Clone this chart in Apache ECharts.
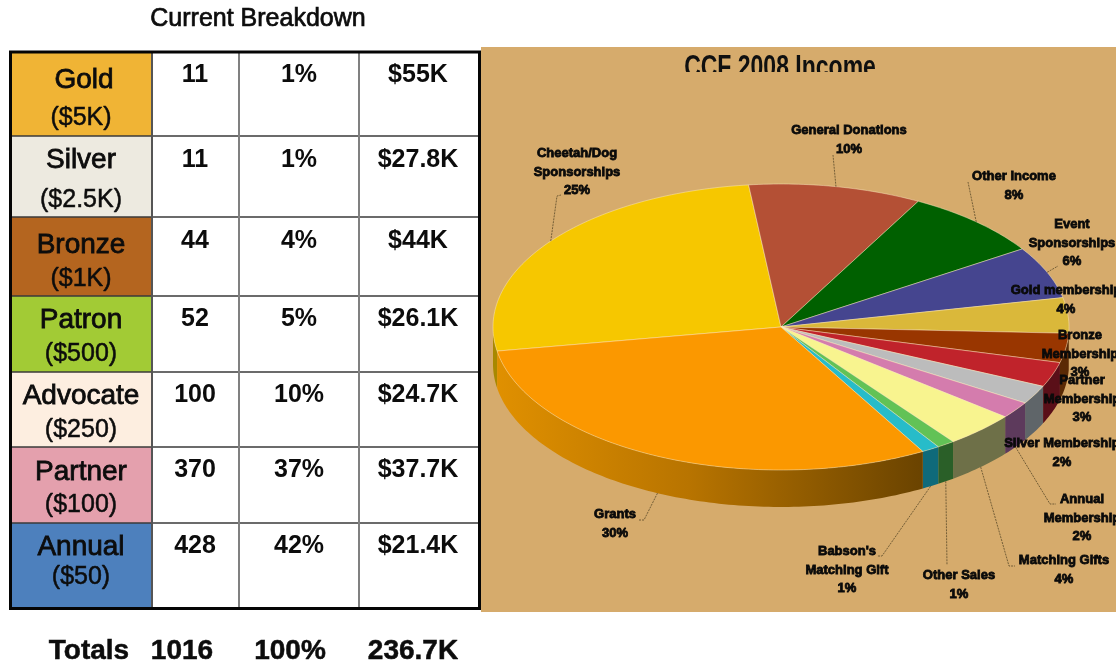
<!DOCTYPE html>
<html>
<head>
<meta charset="utf-8">
<script src="https://cdn.jsdelivr.net/npm/echarts@6/dist/echarts.min.js"></script>
<style>
html, body { margin: 0; padding: 0; background: #fff; }
#container { width: 1116px; height: 662px; }
</style>
</head>
<body>
<div id="container"></div>
<script>
// membership table
const tierNames = ['Gold', 'Silver', 'Bronze', 'Patron', 'Advocate', 'Partner', 'Annual'];
const tierPrices = ['($5K)', '($2.5K)', '($1K)', '($500)', '($250)', '($100)', '($50)'];
const tierCounts = ['11', '11', '44', '52', '100', '370', '428'];
const tierShares = ['1%', '1%', '4%', '5%', '10%', '37%', '42%'];
const tierAmounts = ['$55K', '$27.8K', '$44K', '$26.1K', '$24.7K', '$37.7K', '$21.4K'];
const totalsRow = ['Totals', '1016', '100%', '236.7K'];

// income pie, shares
const incomeNames = ['Cheetah/Dog\nSponsorships', 'General Donations', 'Other Income', 'Event\nSponsorships',
    'Gold membership', 'Bronze\nMembership', 'Partner\nMembership', 'Silver Membership', 'Annual\nMembership',
    'Matching Gifts', 'Other Sales', "Babson's\nMatching Gift", 'Grants'];
const incomeShares = [25.9, 9.7, 7.9, 5.9, 4.0, 3.3, 2.8, 2.1, 1.9, 4.0, 1.0, 1.0, 30.5];
const incomeLabels = ['25%', '10%', '8%', '6%', '4%', '3%', '3%', '2%', '2%', '4%', '1%', '1%', '30%'];

// styles
const tierColors = ['#f0b435', '#edeae0', '#b4651f', '#a2cb35', '#fdeee0', '#e4a0ad', '#4d80bd'];
const topColors = ['#f6c700', '#b45035', '#006000', '#45458f', '#dab83a', '#993600', '#c0232b',
    '#bcbcbc', '#d47cad', '#f8f48f', '#62c256', '#27bcc9', '#fb9800'];
const wallColors = ['#a88800', '#7a3624', '#004000', '#2e2e60', '#94803a', '#5a2a05', '#5a0f18',
    '#5f6569', '#5d3a5c', '#6e7048', '#2a5f28', '#0f6a7a', '#fb9800'];

// layout
const colLines = [152, 239, 359];
const rowLines = [52, 136, 217, 296, 372, 447, 523, 608];
const nameY = [78, 158, 243, 318, 394, 470, 545];
const priceY = [116, 198, 277, 352, 428, 503, 575];
const cellY = [73, 158, 239, 317, 393, 468, 544];
const totalsX = [89, 182, 290, 413];
const textDrop = 2.5;

const pieCx = 781, pieCy = 327, pieRx = 288, pieRy = 143, pieDepth = 37;
const startDeg = -99.7; // Cheetah/Dog starts here, angles run clockwise from the top

// first line of each label, and the elbow of its leader if it has one
const labelX = [577, 849, 1014, 1072, 1066, 1080, 1082, 1062, 1082, 1064, 959, 847, 615];
const labelY = [153, 130, 176, 224, 290, 335, 380, 443, 499, 560, 575, 551, 514];
const leaders = [
    [[557, 196], [561, 195]], [[833, 155]], [[968, 182]], [[1058, 266]], null, null, null, null,
    [[1050, 504], [1056, 504]], [[1009, 566], [1015, 566]], [[947, 565]], [[882, 556], [877, 556]],
    [[644, 520], [638, 520]]
];

const total = incomeShares.reduce((a, b) => a + b, 0);
let running = startDeg;
const sliceFrom = [], sliceTo = [];
incomeShares.forEach(v => {
    sliceFrom.push(running);
    running += v / total * 360;
    sliceTo.push(running);
});

function rim(deg, drop) {
    const a = deg * Math.PI / 180;
    return [pieCx + pieRx * Math.sin(a), pieCy - pieRy * Math.cos(a) + (drop || 0)];
}

function arcPoints(from, to, drop) {
    const pts = [];
    const n = Math.max(2, Math.ceil(Math.abs(to - from)));
    for (let i = 0; i <= n; i++) {
        pts.push(rim(from + (to - from) * i / n, drop));
    }
    return pts;
}

function renderWall(params) {
    const i = params.dataIndex;
    // front half of the rim is 90..270, or -270..-90 for the slice that starts negative
    const lo = sliceFrom[i] < 0 ? -270 : 90;
    const hi = sliceFrom[i] < 0 ? -90 : 270;
    const from = Math.max(sliceFrom[i], lo);
    const to = Math.min(sliceTo[i], hi);
    if (to <= from) {
        return null;
    }
    const pts = arcPoints(from, to, 0).concat(arcPoints(to, from, pieDepth));
    let fill = wallColors[i];
    if (incomeNames[i] === 'Grants') {
        // shaded from bright on the left to dark at the front
        fill = new echarts.graphic.LinearGradient(1, 0, 0, 0, [
            { offset: 0, color: '#6a4300' },
            { offset: 0.55, color: '#b87400' },
            { offset: 1, color: '#e09000' }
        ]);
    }
    return { type: 'polygon', shape: { points: pts }, style: { fill: fill } };
}

function renderTop(params) {
    const i = params.dataIndex;
    const pts = [[pieCx, pieCy]].concat(arcPoints(sliceFrom[i], sliceTo[i], 0));
    return {
        type: 'polygon',
        shape: { points: pts },
        style: { fill: topColors[i], stroke: 'rgba(255,240,200,0.55)', lineWidth: 0.8 }
    };
}

function renderLabel(params) {
    const i = params.dataIndex;
    const mid = (sliceFrom[i] + sliceTo[i]) / 2;
    const children = [];
    if (leaders[i]) {
        const front = mid > 90 && mid < 270;
        children.push({
            type: 'polyline',
            shape: { points: [rim(mid, front ? pieDepth : 0)].concat(leaders[i]) },
            style: { fill: null, stroke: '#5a4a2a', lineWidth: 0.8, lineDash: [2, 1] }
        });
    }
    children.push({
        type: 'text',
        style: {
            text: incomeNames[i] + '\n' + incomeLabels[i],
            x: labelX[i],
            y: labelY[i] - 9,
            align: 'center',
            verticalAlign: 'top',
            font: "bold 13px 'Liberation Sans', Arial, sans-serif",
            lineHeight: 18.7,
            fill: '#0a0a0a',
            stroke: '#0a0a0a',
            lineWidth: 0.8
        }
    });
    return { type: 'group', children: children };
}

function tableText(text, x, y, font, weight) {
    return {
        type: 'text',
        style: {
            text: text, x: x, y: y + textDrop, align: 'center', verticalAlign: 'middle',
            font: font, fill: '#0c0c0c', stroke: '#0c0c0c', lineWidth: weight || 0
        }
    };
}

function buildTable() {
    const els = [];
    const nameFont = "28px 'Liberation Sans', Arial, sans-serif";
    const priceFont = "25px 'Liberation Sans', Arial, sans-serif";
    const cellFont = "bold 25px 'Liberation Sans', Arial, sans-serif";

    // panel behind the pie, with the title cut off along its bottom edge
    els.push({ type: 'rect', shape: { x: 481, y: 47, width: 635, height: 565 }, style: { fill: '#d6ab6c' } });
    els.push({
        type: 'text',
        x: 780,
        y: 53,
        scaleY: 1.35,
        style: {
            text: 'CCF 2008 Income', x: 0, y: 0, align: 'center', verticalAlign: 'top',
            font: "bold 23px 'Liberation Sans', sans-serif", fill: '#101010'
        }
    });
    els.push({ type: 'rect', shape: { x: 670, y: 72, width: 220, height: 14 }, style: { fill: '#d6ab6c' } });

    els.push(tableText('Current Breakdown', 258, 17, "25px 'Liberation Sans', Arial, sans-serif", 0.7));

    tierNames.forEach((name, i) => {
        els.push({
            type: 'rect',
            shape: { x: 10, y: rowLines[i], width: 142, height: rowLines[i + 1] - rowLines[i] },
            style: { fill: tierColors[i] }
        });
    });
    rowLines.slice(1, -1).forEach(y => {
        els.push({ type: 'line', shape: { x1: 10, y1: y, x2: 479, y2: y }, style: { stroke: '#3a3a3a', lineWidth: 1.5 } });
    });
    colLines.forEach((x, k) => {
        els.push({
            type: 'line',
            shape: { x1: x, y1: 52, x2: x, y2: 608 },
            style: { stroke: k === 0 ? '#555' : '#808080', lineWidth: 2 }
        });
    });
    els.push({
        type: 'rect',
        shape: { x: 10.5, y: 52, width: 469, height: 556.5 },
        style: { fill: null, stroke: '#050505', lineWidth: 3 }
    });

    tierNames.forEach((name, i) => {
        els.push(tableText(name, name === 'Gold' ? 84 : 81, nameY[i], nameFont, 0.8));
        els.push(tableText(tierPrices[i], 81, priceY[i], priceFont, 0.5));
        els.push(tableText(tierCounts[i], 195, cellY[i], cellFont));
        els.push(tableText(tierShares[i], 299, cellY[i], cellFont));
        els.push(tableText(tierAmounts[i], 418, cellY[i], cellFont));
    });

    totalsRow.forEach((t, i) => {
        els.push(tableText(t, totalsX[i], 649, "bold 28px 'Liberation Sans', Arial, sans-serif", 0.5));
    });
    return els;
}

var dom = document.getElementById('container');
var myChart = echarts.init(dom, null, { renderer: 'canvas' });

const pieData = incomeShares.map((v, i) => ({ name: incomeNames[i], value: v }));

var option = {
    animation: false,
    backgroundColor: '#fff',
    graphic: { elements: buildTable() },
    series: [
        { type: 'custom', coordinateSystem: 'none', z: 3, silent: true, renderItem: renderWall, data: pieData },
        { type: 'custom', coordinateSystem: 'none', z: 4, silent: true, renderItem: renderTop, data: pieData },
        { type: 'custom', coordinateSystem: 'none', z: 5, silent: true, renderItem: renderLabel, data: pieData }
    ]
};

myChart.setOption(option);
window.addEventListener('resize', myChart.resize);
</script>
</body>
</html>
